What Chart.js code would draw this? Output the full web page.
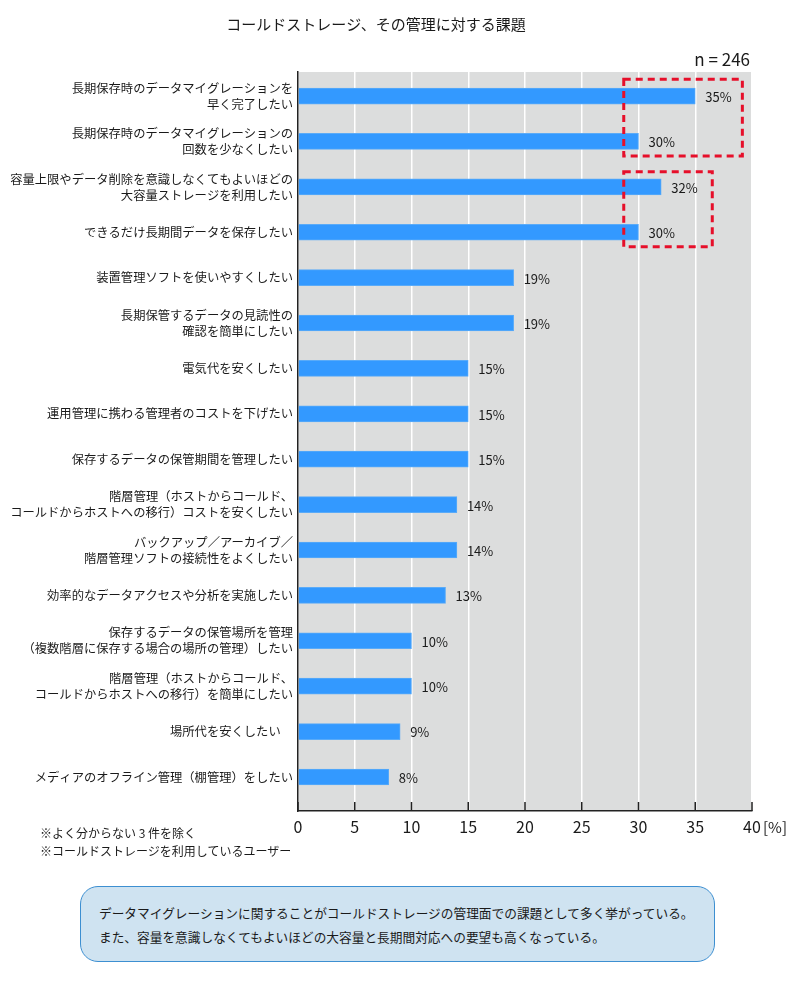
<!DOCTYPE html>
<html lang="ja">
<head>
<meta charset="utf-8">
<script src="https://cdn.jsdelivr.net/npm/chart.js@4.4.0/dist/chart.umd.min.js"></script>
<style>
  html, body { margin: 0; padding: 0; background: #fff; }
  #wrap { position: relative; width: 800px; height: 998px; font-family: "Noto Sans CJK JP", sans-serif; color: #1a1a1a; }
  #chart { position: absolute; left: 0; top: 0; }
  .notes { position: absolute; left: 40px; top: 824px; font-size: 12px; line-height: 18px; }
  .summary {
    position: absolute; left: 80px; top: 886px; width: 635px; height: 76px;
    box-sizing: border-box; border: 1.5px solid #3d8fd1; border-radius: 18px;
    background: #cfe3f1; padding: 14px 0 0 18px; font-size: 12.7px; line-height: 24px;
  }
</style>
</head>
<body>
<div id="wrap">
  <canvas id="chart" width="800" height="998"></canvas>
  <div class="notes">※よく分からない 3 件を除く<br>※コールドストレージを利用しているユーザー</div>
  <div class="summary">データマイグレーションに関することがコールドストレージの管理面での課題として多く挙がっている。<br>また、容量を意識しなくてもよいほどの大容量と長期間対応への要望も高くなっている。</div>
</div>
<script>
const categories = [
  ['長期保存時のデータマイグレーションを', '早く完了したい'],
  ['長期保存時のデータマイグレーションの', '回数を少なくしたい'],
  ['容量上限やデータ削除を意識しなくてもよいほどの', '大容量ストレージを利用したい'],
  ['できるだけ長期間データを保存したい'],
  ['装置管理ソフトを使いやすくしたい'],
  ['長期保管するデータの見読性の', '確認を簡単にしたい'],
  ['電気代を安くしたい'],
  ['運用管理に携わる管理者のコストを下げたい'],
  ['保存するデータの保管期間を管理したい'],
  ['階層管理（ホストからコールド、', 'コールドからホストへの移行）コストを安くしたい'],
  ['バックアップ／アーカイブ／', '階層管理ソフトの接続性をよくしたい'],
  ['効率的なデータアクセスや分析を実施したい'],
  ['保存するデータの保管場所を管理', '（複数階層に保存する場合の場所の管理）したい'],
  ['階層管理（ホストからコールド、', 'コールドからホストへの移行）を簡単にしたい'],
  ['場所代を安くしたい　'],
  ['メディアのオフライン管理（棚管理）をしたい']
];
const percents = [35, 30, 32, 30, 19, 19, 15, 15, 15, 14, 14, 13, 10, 10, 9, 8];
const xTicks = [0, 5, 10, 15, 20, 25, 30, 35, 40];
const sampleSize = 246;

// dashed highlight frames, in axis units (x = %, y = row index)
const highlightBoxes = [
  { x0: 28.7, x1: 39.15, y0: -0.37, y1: 1.32 },
  { x0: 28.7, x1: 36.5, y0: 1.67, y1: 3.32 }
];

const FONT = '"Noto Sans CJK JP", sans-serif';
Chart.defaults.font.family = FONT;
Chart.defaults.color = '#1a1a1a';

const extras = {
  id: 'extras',
  beforeDraw(chart) {
    const { ctx, chartArea: a } = chart;
    ctx.save();
    ctx.fillStyle = '#dcdddd';
    ctx.fillRect(a.left, a.top, a.right - a.left, a.bottom - a.top);
    ctx.restore();
  },
  afterDatasetsDraw(chart) {
    const { ctx, chartArea: a, scales: { x, y } } = chart;
    const meta = chart.getDatasetMeta(0);
    ctx.save();
    // value labels
    ctx.font = '13px ' + FONT;
    ctx.fillStyle = '#1a1a1a';
    ctx.textBaseline = 'middle';
    ctx.textAlign = 'left';
    meta.data.forEach((bar, i) => {
      ctx.fillText(percents[i] + '%', bar.x + 10, bar.y + 1);
    });
    // red dashed frames
    ctx.strokeStyle = '#e60f2a';
    ctx.lineWidth = 3;
    ctx.setLineDash([7, 5]);
    highlightBoxes.forEach(b => {
      const l = x.getPixelForValue(b.x0), r = x.getPixelForValue(b.x1);
      const t = y.getPixelForValue(b.y0), btm = y.getPixelForValue(b.y1);
      ctx.strokeRect(l, t, r - l, btm - t);
    });
    ctx.setLineDash([]);
    // inward tick marks on the x axis
    ctx.strokeStyle = '#222';
    ctx.lineWidth = 1.5;
    xTicks.forEach(v => {
      const px = x.getPixelForValue(v);
      ctx.beginPath();
      ctx.moveTo(px, a.bottom);
      ctx.lineTo(px, a.bottom - 9);
      ctx.stroke();
    });
    // unit and sample size
    ctx.font = '15px ' + FONT;
    ctx.fillText('[%]', a.right + 11, a.bottom + 16);
    ctx.font = '17px ' + FONT;
    ctx.textAlign = 'right';
    ctx.textBaseline = 'alphabetic';
    ctx.fillText('n = ' + sampleSize, a.right - 2, a.top - 6);
    ctx.restore();
  }
};

new Chart(document.getElementById('chart'), {
  type: 'bar',
  data: {
    datasets: [{
      data: percents.map((v, i) => ({ x: v, y: i })),
      backgroundColor: '#3399ff',
      borderColor: '#5aabf8',
      borderWidth: 1,
      barThickness: 16
    }]
  },
  options: {
    indexAxis: 'y',
    responsive: false,
    animation: false,
    layout: { padding: { left: 0, right: 48, top: 0, bottom: 157 } },
    plugins: {
      legend: { display: false },
      tooltip: { enabled: false },
      title: {
        display: true,
        text: 'コールドストレージ、その管理に対する課題',
        color: '#1a1a1a',
        font: { size: 15, weight: 'normal' },
        padding: { top: 15, bottom: 39 }
      }
    },
    scales: {
      x: {
        type: 'linear',
        min: 0,
        max: 40,
        afterBuildTicks: s => { s.ticks = xTicks.map(v => ({ value: v })); },
        afterFit: s => { s.height = 30; },
        ticks: { font: { size: 16 }, color: '#1a1a1a', padding: 6 },
        grid: { color: '#ffffff', lineWidth: 1.5, drawTicks: false },
        border: { display: true, color: '#222', width: 1.5 }
      },
      y: {
        type: 'linear',
        reverse: true,
        offset: false,
        min: -0.53,
        max: 15.75,
        afterBuildTicks: s => { s.ticks = categories.map((c, i) => ({ value: i })); },
        afterFit: s => { s.width = 298; },
        ticks: {
          autoSkip: false,
          padding: 5,
          color: '#1a1a1a',
          font: { size: 12.3, lineHeight: 1.3 },
          callback: v => categories[v]
        },
        grid: { display: false, drawTicks: false },
        border: { display: true, color: '#222', width: 1.5 }
      }
    }
  },
  plugins: [extras]
});
</script>
</body>
</html>
